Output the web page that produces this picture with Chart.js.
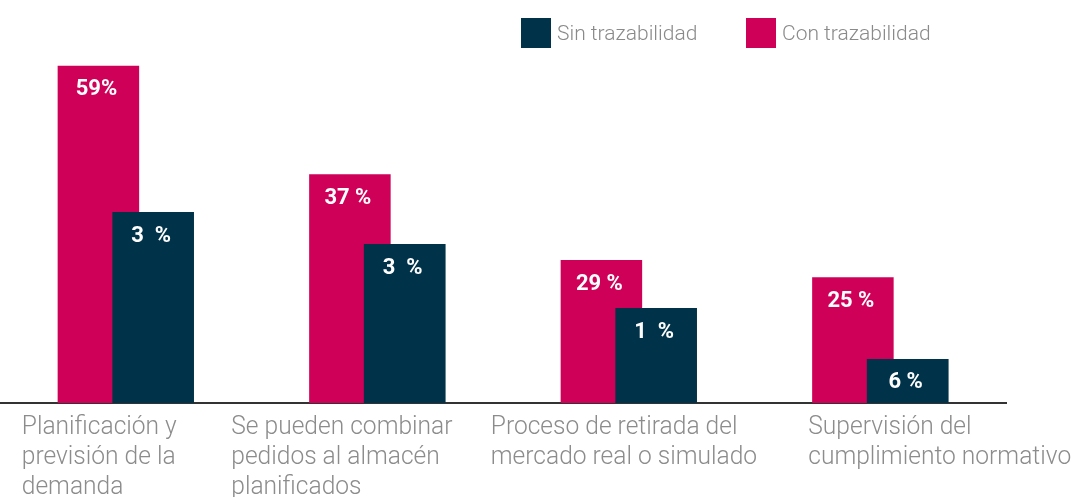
<!DOCTYPE html>
<html>
<head>
<meta charset="utf-8">
<script src="https://cdn.jsdelivr.net/npm/chart.js@4/dist/chart.umd.min.js"></script>
<style>
  body { margin: 0; background: #fff; }
  #wrap { position: relative; width: 1078px; height: 497px; }
  .legend { position: absolute; top: 18px; height: 30px; font-family: Roboto, sans-serif; font-weight: 300;
            font-size: 21px; color: #8a8a8a; display: flex; align-items: center; }
  .legend span.box { display: inline-block; width: 30px; height: 30px; margin-right: 6px; }
</style>
</head>
<body>
<div id="wrap">
  <canvas id="chart1" width="1078" height="497"></canvas>
  <div class="legend" style="left:521px"><span class="box" style="background:#003349"></span>Sin trazabilidad</div>
  <div class="legend" style="left:746px"><span class="box" style="background:#cf0058"></span>Con trazabilidad</div>
</div>
<script>
// categories (multi-line, as printed)
var categories = [
    ["Planificación y", "previsión de la", "demanda"],
    ["Se pueden combinar", "pedidos al almacén", "planificados"],
    ["Proceso de retirada del", "mercado real o simulado"],
    ["Supervisión del", "cumplimiento normativo"]
];
// bar heights
var conValues = [59, 40, 25, 22];
var sinValues = [33.4, 27.8, 16.6, 7.7];
// value labels as printed on the bars
var conLabels = ["59%", "37 %", "29 %", "25 %"];
var sinLabels = ["3  %", "3  %", "1  %", "6 %"];

// left shift of each category label from its group centre
var labelShift = [-104, -146, -138, -72];

var labelsPlugin = {
    id: 'labelsPlugin',
    afterDatasetsDraw: function (chart) {
        var ctx = chart.ctx;
        // dark bars sit in front of the pink ones
        chart.getDatasetMeta(1).controller.draw();

        ctx.save();
        // values inside bars
        ctx.font = 'bold 22px Roboto, sans-serif';
        ctx.fillStyle = '#ffffff';
        ctx.textAlign = 'center';
        ctx.textBaseline = 'middle';
        [conLabels, sinLabels].forEach(function (texts, di) {
            chart.getDatasetMeta(di).data.forEach(function (bar, i) {
                ctx.fillText(texts[i], bar.x - 2, bar.y + 24);
            });
        });
        // category labels under the axis
        var xs = chart.scales.x;
        ctx.font = '300 26px Roboto, sans-serif';
        ctx.fillStyle = '#8c8c8c';
        ctx.textAlign = 'left';
        ctx.textBaseline = 'alphabetic';
        categories.forEach(function (lines, i) {
            var x = xs.getPixelForValue(i) + labelShift[i];
            lines.forEach(function (line, j) {
                ctx.save();
                ctx.translate(x, 434 + j * 30);
                ctx.scale(0.945, 1);
                ctx.fillText(line, 0, 0);
                ctx.restore();
            });
        });
        ctx.restore();
    }
};

var ctxChart1 = document.getElementById('chart1').getContext('2d');
var chart1 = new Chart(ctxChart1, {
    type: 'bar',
    plugins: [labelsPlugin],
    data: {
        labels: categories.map(function (c) { return c.join(' '); }),
        datasets: [{
            label: 'Con trazabilidad',
            data: conValues,
            backgroundColor: '#cf0058',
            categoryPercentage: 0.435,
            barPercentage: 1.49
        }, {
            label: 'Sin trazabilidad',
            data: sinValues,
            backgroundColor: '#003349',
            categoryPercentage: 0.435,
            barPercentage: 1.49
        }]
    }, options: {
        responsive: false,
        animation: false,
        layout: { padding: { top: 60, bottom: 94, left: 0, right: 72 } },
        plugins: {
            legend: { display: false },
            title: { display: false },
            tooltip: { enabled: false }
        }, scales: {
            x: {
                ticks: { display: false },
                grid: { display: false, drawTicks: false },
                border: { display: true, color: '#333333', width: 2 }
            },
            y: { display: false, min: 0, max: 60 }
        }
    },
});
</script>
</body>
</html>
